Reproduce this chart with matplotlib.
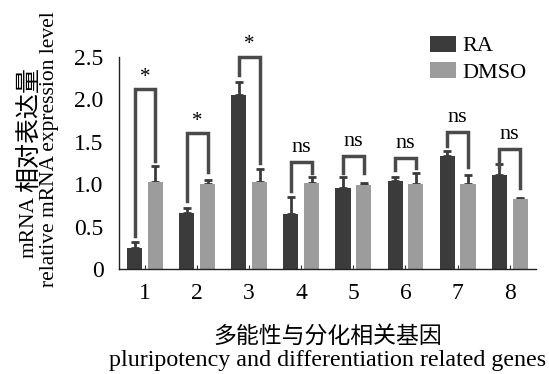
import numpy as np
import matplotlib
matplotlib.use("Agg")
import matplotlib.pyplot as plt

plt.rcParams['font.family'] = ['Liberation Serif', 'Noto Sans CJK SC']

genes = ['1', '2', '3', '4', '5', '6', '7', '8']
ra = [0.25, 0.66, 2.05, 0.65, 0.96, 1.04, 1.33, 1.11]
ra_err = [0.07, 0.06, 0.16, 0.20, 0.13, 0.05, 0.06, 0.13]
dmso = [1.03, 1.00, 1.03, 1.01, 0.99, 1.00, 1.00, 0.83]
dmso_err = [0.18, 0.05, 0.15, 0.08, 0.03, 0.13, 0.11, 0.01]

# significance brackets: top, left leg bottom, right leg bottom
br_top = [2.12, 1.60, 2.50, 1.26, 1.33, 1.31, 1.61, 1.42]
br_left = [0.39, 0.80, 2.29, 0.92, 1.13, 1.17, 1.45, 1.20]
br_right = [1.27, 1.14, 1.25, 1.13, 1.13, 1.19, 1.20, 0.96]
sig = ['*', '*', '*', 'ns', 'ns', 'ns', 'ns', 'ns']

c_ra = '#3b3b3b'
c_dmso = '#9c9c9c'
c_br = '#4a4a4a'

fig = plt.figure(figsize=(5.49, 3.74), dpi=100)
ax = fig.add_axes([0.2168, 0.2807, 0.759, 0.5669])

x = np.arange(1, len(genes) + 1)
w = 0.29
off = 0.2

ax.bar(x - off, ra, w, color=c_ra, label='RA', zorder=2)
ax.bar(x + off, dmso, w, color=c_dmso, label='DMSO', zorder=2)
ax.errorbar(x - off, ra, yerr=[np.zeros(len(ra)), ra_err], fmt='none',
            ecolor=c_ra, elinewidth=2, capsize=3, capthick=2, zorder=1)
ax.errorbar(x + off, dmso, yerr=[np.zeros(len(dmso)), dmso_err], fmt='none',
            ecolor=c_ra, elinewidth=2, capsize=3, capthick=2, zorder=1)

for i in range(len(genes)):
    xl = x[i] - off
    xr = x[i] + off
    ax.plot([xl, xl, xr, xr], [br_left[i], br_top[i], br_top[i], br_right[i]],
            color=c_br, lw=2.5, solid_joinstyle='miter', clip_on=False, zorder=3)
    if sig[i] == '*':
        ax.text(x[i], br_top[i] + 0.03, '*', ha='center', va='bottom', fontsize=15)
    else:
        ax.text(x[i], br_top[i] + 0.06, 'ns', ha='center', va='bottom', fontsize=16)

ax.set_xlim(0.5, 8.5)
ax.set_ylim(0, 2.5)
ax.set_xticks(x)
ax.set_xticklabels(genes)
ax.set_yticks([0, 0.5, 1.0, 1.5, 2.0, 2.5])
ax.set_yticklabels(['0', '0.5', '1.0', '1.5', '2.0', '2.5'])
ax.tick_params(axis='both', labelsize=17, direction='in', length=3, color='#333333')
ax.tick_params(axis='y', length=0, pad=11)
ax.tick_params(axis='x', pad=10)
for s in ['top', 'right']:
    ax.spines[s].set_visible(False)
for s in ['left', 'bottom']:
    ax.spines[s].set_color('#222222')
    ax.spines[s].set_linewidth(1.0)

# y label, first line: latin part and Chinese part at different sizes
fig.text(0.053, 0.310, 'mRNA', rotation=90, ha='center', va='bottom', fontsize=15.5)
fig.text(0.053, 0.821, '相对表达量', rotation=90, ha='center', va='top', fontsize=18)
fig.text(0.091, 0.60, 'relative mRNA expression level', rotation=90, ha='center', va='center', fontsize=15.5)
fig.text(0.596, 0.100, '多能性与分化相关基因', ha='center', va='center', fontsize=16.5)
fig.text(0.596, 0.036, 'pluripotency and differentiation related genes', ha='center', va='center', fontsize=17.3)

ax.legend(loc='upper left', bbox_to_anchor=(0.746, 1.10), frameon=False, fontsize=16,
          handlelength=1.17, handleheight=0.72, handletextpad=0.3, labelspacing=0.25,
          borderaxespad=0, borderpad=0)

fig.savefig('out.png', dpi=100)
